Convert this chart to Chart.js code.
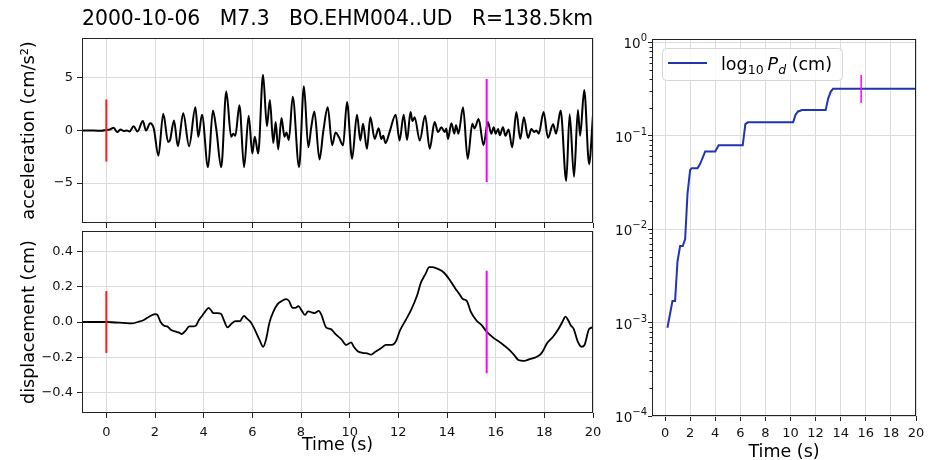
<!DOCTYPE html>
<html><head><meta charset="utf-8">
<script src="https://cdn.jsdelivr.net/npm/chart.js@4.4.1/dist/chart.umd.min.js"></script>
<style>
html,body{margin:0;padding:0;background:#fff;}
body{width:932px;height:460px;position:relative;overflow:hidden;}
canvas{position:absolute;display:block;}
</style></head><body>
<canvas id="acc" width="610" height="228" style="left:0;top:0;width:610px;height:228px"></canvas>
<canvas id="disp" width="610" height="232" style="left:0;top:228px;width:610px;height:232px"></canvas>
<canvas id="pd" width="322" height="460" style="left:610px;top:0;width:322px;height:460px"></canvas>
<script>
// ---------------- data ----------------
const TITLE = '2000-10-06   M7.3   BO.EHM004..UD   R=138.5km';
const timeTicks = [0,2,4,6,8,10,12,14,16,18,20];
const timeTickLabels = ['0','2','4','6','8','10','12','14','16','18','20'];
const accTicks = [-5,0,5];
const accTickLabels = ['\u22125','0','5'];
const dispTicks = [-0.4,-0.2,0,0.2,0.4];
const dispTickLabels = ['\u22120.4','\u22120.2','0.0','0.2','0.4'];
const pdTicks = [1e-4,1e-3,1e-2,1e-1,1];
const pdTickBase = ['10','10','10','10','10'];
const pdTickExp = ['\u22124','\u22123','\u22122','\u22121','0'];

const accT = [-1.0,-0.5,-0.2,0.0,0.15,0.3,0.45,0.58,0.72,0.85,0.95,1.12,1.28,1.5,1.63,1.8,1.95,2.14,2.34,2.54,2.62,2.78,2.94,3.16,3.4,3.66,3.78,3.93,4.18,4.38,4.52,4.72,4.93,5.13,5.22,5.3,5.47,5.66,5.85,6.0,6.1,6.24,6.44,6.6,6.72,6.86,6.96,7.06,7.2,7.32,7.4,7.5,7.66,7.92,8.12,8.3,8.42,8.55,8.76,8.92,9.1,9.28,9.42,9.55,9.73,9.89,10.1,10.3,10.44,10.55,10.71,10.85,11.03,11.19,11.3,11.38,11.47,11.64,11.89,12.05,12.22,12.36,12.5,12.58,12.67,12.88,13.1,13.29,13.49,13.63,13.77,13.9,13.97,14.04,14.18,14.3,14.37,14.47,14.66,14.85,15.04,15.13,15.3,15.5,15.68,15.82,15.92,16.0,16.1,16.17,16.3,16.4,16.53,16.68,16.85,17.01,17.16,17.33,17.47,17.58,17.67,17.77,17.97,18.15,18.36,18.48,18.67,18.9,19.04,19.22,19.38,19.47,19.64,19.84,20.0];
const accV = [0,0.0,-0.03,0.05,0.1,0.25,-0.15,0.1,-0.05,0.0,-0.1,0.4,-0.1,0.9,0.0,0.7,0.2,-2.4,1.6,-1.1,-0.9,0.95,-1.5,1.65,-1.5,2.2,-0.6,1.5,-3.5,1.9,0.1,-3.5,3.7,-0.6,-0.3,-0.5,2.4,-3.5,1.4,-2.2,-0.6,-2.2,5.3,0.4,2.9,-1.2,0.8,-1.8,1.2,-0.6,-0.2,-0.9,3.2,-3.5,4.2,-1.6,0.3,1.8,-2.75,0.0,2.2,-1.4,-0.2,-0.6,-1.4,2.7,-2.7,1.5,-0.95,0.63,-1.74,1.27,-0.8,0.22,-0.8,-0.5,-1.2,-0.15,1.5,-0.95,1.5,-0.9,1.75,0.9,1.27,-0.95,1.4,-1.74,0.8,-0.15,0.3,-0.15,0.2,-0.8,0.7,-0.3,0.5,-0.3,2.2,-2.7,0.63,0.2,1.1,-1.4,0.8,-0.3,0.3,-0.3,0.15,-0.45,0.3,-0.5,0.1,-1.6,1.75,-0.8,1.27,-0.7,0.15,-0.15,0.0,-0.3,1.75,-0.7,0.6,-0.3,1.9,-4.8,1.55,-4.4,1.95,-0.5,3.85,-3.2,1.5];

const dispT = [-1,0,1.05,1.29,1.52,1.76,2.0,2.1,2.23,2.36,2.5,2.67,2.86,2.99,3.1,3.25,3.41,3.57,3.68,3.8,3.96,4.07,4.2,4.31,4.4,4.56,4.72,4.83,4.98,5.14,5.3,5.5,5.57,5.66,5.77,5.93,6.09,6.29,6.45,6.56,6.71,6.87,7.03,7.23,7.39,7.5,7.66,7.77,7.89,8.05,8.16,8.29,8.44,8.55,8.73,8.84,9.03,9.23,9.43,9.67,9.86,10.06,10.17,10.33,10.53,10.72,10.88,11.04,11.27,11.5,11.74,11.9,12.06,12.3,12.53,12.77,12.92,13.11,13.27,13.4,13.63,13.87,14.1,14.34,14.5,14.65,14.81,14.97,15.2,15.44,15.63,15.91,16.23,16.54,16.78,16.93,17.17,17.4,17.64,17.83,17.96,18.11,18.35,18.58,18.74,18.87,18.98,19.09,19.21,19.37,19.53,19.65,19.84,20.0];
const dispV = [0,0,-0.008,0.0,0.01,0.03,0.045,0.04,0.0,-0.02,-0.025,-0.045,-0.055,-0.06,-0.068,-0.05,-0.025,-0.025,-0.02,0.01,0.04,0.06,0.08,0.065,0.05,0.05,0.045,0.01,-0.03,-0.01,0.005,0.005,0.02,0.035,0.02,0.0,-0.04,-0.1,-0.14,-0.1,0.0,0.06,0.1,0.12,0.13,0.12,0.08,0.08,0.09,0.06,0.04,0.06,0.055,0.05,0.063,0.04,-0.03,-0.04,-0.07,-0.1,-0.13,-0.115,-0.14,-0.165,-0.175,-0.178,-0.185,-0.17,-0.15,-0.13,-0.13,-0.11,-0.05,0.01,0.07,0.15,0.22,0.27,0.31,0.31,0.3,0.28,0.24,0.19,0.16,0.13,0.12,0.06,0.01,-0.02,-0.055,-0.09,-0.12,-0.155,-0.19,-0.215,-0.22,-0.21,-0.2,-0.185,-0.16,-0.12,-0.085,-0.04,0.0,0.03,0.01,-0.02,-0.04,-0.11,-0.14,-0.13,-0.04,-0.03];

const pdT = [0.19,0.59,0.8,0.99,1.2,1.41,1.6,1.79,2.0,2.13,2.59,2.8,3.2,4.0,4.27,6.19,6.4,6.59,10.21,10.4,10.6,10.93,12.8,13.0,13.2,13.39,20.0];
const pdV = [8.8e-4,1.7e-3,1.7e-3,4.5e-3,6.6e-3,6.6e-3,7.8e-3,0.024,0.043,0.045,0.045,0.05,0.068,0.068,0.079,0.079,0.133,0.139,0.139,0.168,0.182,0.188,0.188,0.25,0.295,0.319,0.319];

const pOnset = 0;
const sMark = 15.63;
const accMarkP = 2.95, accMarkS = 4.9;
const dispMarkP = 0.175, dispMarkS = 0.29;
const pdMarkLo = 0.224, pdMarkHi = 0.447;

// ---------------- styling ----------------
const FONT = "'DejaVu Sans', sans-serif";
Chart.defaults.font.family = FONT;
Chart.defaults.color = '#111';
const C_GRID = '#dcdcdc', C_AX = '#222', C_TXT = '#111';

const xy = (T, V) => T.map((t, i) => ({x: t, y: V[i]}));
const noPad = s => { s.paddingTop = 0; s.paddingBottom = 0; s.paddingLeft = 0; s.paddingRight = 0; };

const framePlugin = {
  id: 'frame',
  afterDraw(chart) {
    const {ctx, chartArea: a} = chart;
    ctx.save();
    ctx.strokeStyle = C_AX;
    ctx.lineWidth = 1;
    const l = Math.round(a.left) + 0.5, t = Math.round(a.top) + 0.5;
    const r = Math.round(a.right) - 0.5, b = Math.round(a.bottom) - 0.5;
    ctx.strokeRect(l, t, r - l, b - t);
    ctx.restore();
  }
};

function timeAxis(showLabels, minV, h, title, pad) {
  const o = {
    type: 'linear', min: minV, max: 20,
    afterBuildTicks: s => { s.ticks = timeTicks.map(v => ({value: v})); },
    afterFit: s => { s.height = h; noPad(s); },
    ticks: {autoSkip: false, maxRotation: 0, minRotation: 0, font: {size: 13}, color: C_TXT, padding: pad,
      callback: (v, i) => showLabels ? timeTickLabels[i] : ''},
    grid: {color: C_GRID, tickColor: C_AX, tickLength: 5, lineWidth: 1},
    border: {display: false}
  };
  if (title) o.title = title;
  return o;
}

function markerDS(x, lo, hi, color, w) {
  return {type: 'line', data: [{x: x, y: lo}, {x: x, y: hi}], borderColor: color, borderWidth: w,
    pointRadius: 0, tension: 0, order: 0};
}

const common = {
  responsive: false, animation: false, devicePixelRatio: 1,
  events: [],
};

// ---------------- acceleration ----------------
new Chart(document.getElementById('acc'), {
  type: 'line',
  data: {datasets: [
    {data: xy(accT, accV), borderColor: '#000', borderWidth: 2, pointRadius: 0, cubicInterpolationMode: 'monotone', order: 1},
    markerDS(pOnset, -accMarkP, accMarkP, '#ff1a1a', 2),
    markerDS(sMark, -accMarkS, accMarkS, '#ff00ff', 2)
  ]},
  options: Object.assign({}, common, {
    layout: {padding: {left: 0, right: 17, top: 0, bottom: 0}},
    plugins: {
      legend: {display: false}, tooltip: {enabled: false},
      title: {display: true, text: TITLE, fullSize: false, color: '#000',
        font: {size: 20.4, weight: 'normal', family: FONT}, padding: {top: 7.5, bottom: 6}}
    },
    scales: {
      x: timeAxis(false, -1, 5, null, 4),
      y: {
        type: 'linear', min: -8.8, max: 8.8,
        afterBuildTicks: s => { s.ticks = accTicks.map(v => ({value: v})); },
        afterFit: s => { s.width = 82; noPad(s); },
        ticks: {font: {size: 13}, color: C_TXT, padding: 4, callback: (v, i) => accTickLabels[i]},
        grid: {color: C_GRID, tickColor: C_AX, tickLength: 5, lineWidth: 1},
        border: {display: false},
        title: {display: true, text: 'acceleration (cm/s\u00B2)', color: '#000', font: {size: 17.8}, padding: {top: 18.5, bottom: 0}}
      }
    }
  }),
  plugins: [framePlugin]
});

// ---------------- displacement ----------------
new Chart(document.getElementById('disp'), {
  type: 'line',
  data: {datasets: [
    {data: xy(dispT, dispV), borderColor: '#000', borderWidth: 1.8, pointRadius: 0, cubicInterpolationMode: 'monotone', order: 1},
    markerDS(pOnset, -dispMarkP, dispMarkP, '#ff1a1a', 2),
    markerDS(sMark, -dispMarkS, dispMarkS, '#ff00ff', 2)
  ]},
  options: Object.assign({}, common, {
    layout: {padding: {left: 0, right: 17, top: 3, bottom: 0}},
    plugins: {legend: {display: false}, tooltip: {enabled: false}},
    scales: {
      x: timeAxis(true, -1, 47, {display: true, text: 'Time (s)', color: '#000', font: {size: 17.5}, padding: {top: 0, bottom: 4}}, 7),
      y: {
        type: 'linear', min: -0.515, max: 0.515,
        afterBuildTicks: s => { s.ticks = dispTicks.map(v => ({value: v})); },
        afterFit: s => { s.width = 82; noPad(s); },
        ticks: {font: {size: 13}, color: C_TXT, padding: 4, callback: (v, i) => dispTickLabels[i]},
        grid: {color: C_GRID, tickColor: C_AX, tickLength: 5, lineWidth: 1},
        border: {display: false},
        title: {display: true, text: 'displacement (cm)', color: '#000', font: {size: 17.5}, padding: {top: 18.5, bottom: 0}}
      }
    }
  }),
  plugins: [framePlugin]
});

// ---------------- Pd ----------------
const minorTicks = {
  id: 'minorTicks',
  afterDraw(chart) {
    const {ctx, chartArea: a} = chart;
    const ys = chart.scales.y;
    ctx.save();
    ctx.strokeStyle = C_AX; ctx.lineWidth = 1;
    for (let n = -4; n <= 0; n++) {
      for (let k = 2; k <= 9; k++) {
        const v = k * Math.pow(10, n);
        if (v > ys.max) continue;
        const y = Math.round(ys.getPixelForValue(v)) + 0.5;
        ctx.beginPath(); ctx.moveTo(a.left - 2.5, y); ctx.lineTo(a.left, y); ctx.stroke();
      }
    }
    // power-of-ten tick labels with raised exponent
    ctx.fillStyle = C_TXT; ctx.textBaseline = 'alphabetic';
    pdTicks.forEach((v, i) => {
      const y = ys.getPixelForValue(v);
      ctx.font = '10px ' + FONT;
      const ew = ctx.measureText(pdTickExp[i]).width;
      ctx.textAlign = 'right';
      const xr = a.left - 5;
      ctx.fillText(pdTickExp[i], xr, y - 1);
      ctx.font = '13.5px ' + FONT;
      ctx.fillText(pdTickBase[i], xr - ew, y + 6);
    });
    ctx.restore();
  }
};
const pdLegend = {
  id: 'pdLegend',
  afterDraw(chart) {
    const ctx = chart.ctx;
    ctx.save();
    const bx = 52.5, by = 48.5, bw = 180, bh = 32, r = 4;
    ctx.beginPath();
    ctx.moveTo(bx + r, by); ctx.lineTo(bx + bw - r, by); ctx.quadraticCurveTo(bx + bw, by, bx + bw, by + r);
    ctx.lineTo(bx + bw, by + bh - r); ctx.quadraticCurveTo(bx + bw, by + bh, bx + bw - r, by + bh);
    ctx.lineTo(bx + r, by + bh); ctx.quadraticCurveTo(bx, by + bh, bx, by + bh - r);
    ctx.lineTo(bx, by + r); ctx.quadraticCurveTo(bx, by, bx + r, by);
    ctx.closePath();
    ctx.fillStyle = 'rgba(255,255,255,0.8)'; ctx.fill();
    ctx.strokeStyle = '#d6d6d6'; ctx.lineWidth = 1; ctx.stroke();
    ctx.strokeStyle = '#2035b0'; ctx.lineWidth = 2;
    ctx.beginPath(); ctx.moveTo(58, 63); ctx.lineTo(97, 63); ctx.stroke();
    ctx.fillStyle = '#000'; ctx.textBaseline = 'alphabetic'; ctx.textAlign = 'left';
    let x = 111; const base = 70;
    ctx.font = '17.5px ' + FONT; ctx.fillText('log', x, base); x += ctx.measureText('log').width;
    ctx.font = '12.5px ' + FONT; ctx.fillText('10', x, base + 4); x += ctx.measureText('10').width + 4;
    ctx.font = 'italic 17.5px ' + FONT; ctx.fillText('P', x, base); x += ctx.measureText('P').width;
    ctx.font = 'italic 12.5px ' + FONT; ctx.fillText('d', x, base + 4); x += ctx.measureText('d').width;
    ctx.font = '17.5px ' + FONT; ctx.fillText(' (cm)', x, base);
    ctx.restore();
  }
};

new Chart(document.getElementById('pd'), {
  type: 'line',
  data: {datasets: [
    {data: xy(pdT, pdV), borderColor: '#2035b0', borderWidth: 2, pointRadius: 0, tension: 0, order: 1},
    markerDS(sMark, pdMarkLo, pdMarkHi, '#ff00ff', 1.5)
  ]},
  options: Object.assign({}, common, {
    layout: {padding: {left: 0, right: 16, top: 39, bottom: 0}},
    plugins: {legend: {display: false}, tooltip: {enabled: false}},
    scales: {
      x: timeAxis(true, -1.04, 44, {display: true, text: 'Time (s)', color: '#000', font: {size: 17.5, lineHeight: 1}, padding: {top: 0, bottom: -1}}, 5),
      y: {
        type: 'logarithmic', min: 1e-4, max: 1.085,
        afterBuildTicks: s => { s.ticks = pdTicks.map(v => ({value: v})); },
        afterFit: s => { s.width = 42; noPad(s); },
        ticks: {font: {size: 13}, color: C_TXT, padding: 1, callback: () => ''},
        grid: {color: C_GRID, tickColor: C_AX, tickLength: 4, lineWidth: 1},
        border: {display: false}
      }
    }
  }),
  plugins: [framePlugin, minorTicks, pdLegend]
});
</script></body></html>
